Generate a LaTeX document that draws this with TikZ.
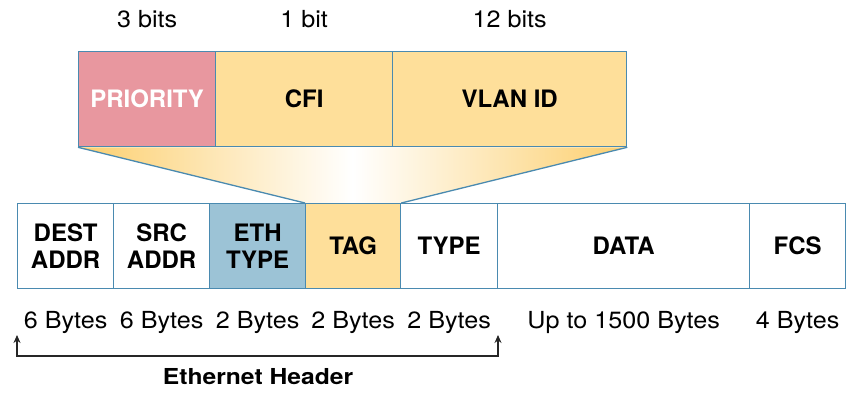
\documentclass[tikz,border=0pt]{standalone}
\usepackage{fontspec}
\setmainfont{TeX Gyre Heros}
\newfontfamily\widefont[FakeStretch=1.07]{TeX Gyre Heros}
\newfontfamily\widerfont[FakeStretch=1.12]{TeX Gyre Heros}
\usetikzlibrary{arrows.meta,backgrounds}
\definecolor{edgec}{HTML}{4A8AB0}
\definecolor{pric}{HTML}{E8979F}
\definecolor{tagc}{HTML}{FEDF9A}
\definecolor{ethc}{HTML}{9CC3D6}
\definecolor{funnelc}{HTML}{FCCF6E}
\begin{document}
\begin{tikzpicture}[x=1pt,y=-1pt,
  field/.style={draw=edgec, line width=1.3pt, inner sep=0pt, anchor=north west,
    font=\fontsize{24}{27}\selectfont\bfseries, align=center, text=black},
  toprow/.style={field, minimum height=95pt},
  botrow/.style={field, minimum height=85pt},
  size/.style={font=\widefont\fontsize{23.5}{27}\selectfont, inner sep=0pt, anchor=base},
]
\useasboundingbox (0,0) rectangle (846,396);
% top row
\node[toprow, fill=pric, text=white, minimum width=137pt] (pri) at (78,51) {PRIORITY};
\node[toprow, fill=tagc, minimum width=177pt] (cfi) at (215,51) {CFI};
\node[toprow, fill=tagc, minimum width=234pt] (vlan) at (392,51) {VLAN ID};
% bottom row
\node[botrow, fill=white, minimum width=96pt] (dest) at (17,203) {DEST\\ADDR};
\node[botrow, fill=white, minimum width=96pt] (src) at (113,203) {SRC\\ADDR};
\node[botrow, fill=ethc, minimum width=96pt] (eth) at (209,203) {ETH\\TYPE};
\node[botrow, fill=tagc, minimum width=95pt] (tag) at (305,203) {TAG};
\node[botrow, fill=white, minimum width=97pt] (type) at (400,203) {TYPE};
\node[botrow, fill=white, minimum width=252pt] (data) at (497,203) {DATA};
\node[botrow, fill=white, minimum width=96pt] (fcs) at (749,203) {FCS};
% funnel
\begin{scope}[on background layer]
\shade[left color=funnelc, right color=funnelc, middle color=white]
  (pri.south west) -- (vlan.south east) -- (tag.north east) -- (tag.north west) -- cycle;
\end{scope}
\draw[edgec, line width=1.3pt] (pri.south west) -- (tag.north west);
\draw[edgec, line width=1.3pt] (vlan.south east) -- (tag.north east);
% bit labels
\node[size] (b1) at (pri.center |- 0,28) {3 bits};
\node[size] (b2) at (cfi.center |- 0,28) {1 bit};
\node[size] (b3) at (vlan.center |- 0,28) {12 bits};
% byte labels
\node[size] (s1) at (dest.center |- 0,328) {6 Bytes};
\node[size] (s2) at (src.center |- 0,328) {6 Bytes};
\node[size] (s3) at (eth.center |- 0,328) {2 Bytes};
\node[size] (s4) at (tag.center |- 0,328) {2 Bytes};
\node[size] (s5) at (type.center |- 0,328) {2 Bytes};
\node[size] (s6) at (data.center |- 0,328) {Up to 1500 Bytes};
\node[size] (s7) at (fcs.center |- 0,328) {4 Bytes};
% bracket
\coordinate (hl) at (17,335);
\coordinate (hr) at (498,335);
\draw[line width=1.1pt, black!85, {Stealth[length=8pt,width=7pt]}-{Stealth[length=8pt,width=7pt]}]
  (hl) -- (hl |- 0,356) -- (hr |- 0,356) -- (hr);
\node[font=\widerfont\fontsize{22}{25}\selectfont\bfseries, inner sep=0pt, anchor=base] (eh) at (258,384) {Ethernet Header};
\end{tikzpicture}
\end{document}
